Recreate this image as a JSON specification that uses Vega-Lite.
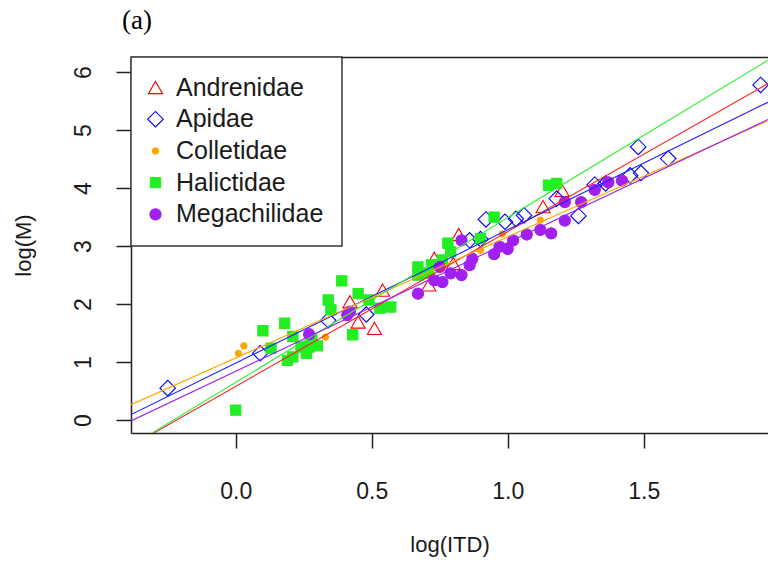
{
"$schema":"https://vega.github.io/schema/vega-lite/v6.json",
"width":637,"height":376,"autosize":"none",
"padding":{"left":131,"top":57,"right":0,"bottom":132},
"background":"white",
"title":{"text":"(a)","font":"Liberation Serif","fontSize":27,"fontWeight":"normal","anchor":"start","frame":"group","dx":-9,"offset":0,"baseline":"alphabetic","color":"#000"},
"datasets":{
"pts":[
{"f":"Andrenidae","x":0.42,"y":2.04},{"f":"Andrenidae","x":0.45,"y":1.69},{"f":"Andrenidae","x":0.51,"y":1.58},{"f":"Andrenidae","x":0.54,"y":2.24},{"f":"Andrenidae","x":0.71,"y":2.33},{"f":"Andrenidae","x":0.73,"y":2.79},{"f":"Andrenidae","x":0.80,"y":2.70},{"f":"Andrenidae","x":0.82,"y":3.20},{"f":"Andrenidae","x":1.13,"y":3.68},{"f":"Andrenidae","x":1.20,"y":3.96},
{"f":"Apidae","x":-0.25,"y":0.55},{"f":"Apidae","x":0.09,"y":1.15},{"f":"Apidae","x":0.34,"y":1.72},{"f":"Apidae","x":0.48,"y":1.82},{"f":"Apidae","x":0.86,"y":3.10},{"f":"Apidae","x":0.90,"y":3.12},{"f":"Apidae","x":0.92,"y":3.46},{"f":"Apidae","x":0.99,"y":3.42},{"f":"Apidae","x":1.03,"y":3.47},{"f":"Apidae","x":1.06,"y":3.53},{"f":"Apidae","x":1.18,"y":3.82},{"f":"Apidae","x":1.26,"y":3.52},{"f":"Apidae","x":1.32,"y":4.06},{"f":"Apidae","x":1.36,"y":4.08},{"f":"Apidae","x":1.45,"y":4.22},{"f":"Apidae","x":1.49,"y":4.26},{"f":"Apidae","x":1.48,"y":4.71},{"f":"Apidae","x":1.59,"y":4.51},{"f":"Apidae","x":1.93,"y":5.78},
{"f":"Colletidae","x":0.01,"y":1.15},{"f":"Colletidae","x":0.03,"y":1.28},{"f":"Colletidae","x":0.33,"y":1.43},{"f":"Colletidae","x":0.90,"y":2.93},{"f":"Colletidae","x":0.98,"y":3.21},{"f":"Colletidae","x":1.12,"y":3.45},
{"f":"Halictidae","x":0.00,"y":0.17},{"f":"Halictidae","x":0.10,"y":1.54},{"f":"Halictidae","x":0.13,"y":1.24},{"f":"Halictidae","x":0.18,"y":1.67},{"f":"Halictidae","x":0.19,"y":1.03},{"f":"Halictidae","x":0.21,"y":1.44},{"f":"Halictidae","x":0.21,"y":1.09},{"f":"Halictidae","x":0.24,"y":1.26},{"f":"Halictidae","x":0.26,"y":1.15},{"f":"Halictidae","x":0.27,"y":1.26},{"f":"Halictidae","x":0.30,"y":1.28},{"f":"Halictidae","x":0.28,"y":1.38},{"f":"Halictidae","x":0.34,"y":2.07},{"f":"Halictidae","x":0.35,"y":1.90},{"f":"Halictidae","x":0.39,"y":2.40},{"f":"Halictidae","x":0.43,"y":1.47},{"f":"Halictidae","x":0.45,"y":2.18},{"f":"Halictidae","x":0.49,"y":2.07},{"f":"Halictidae","x":0.53,"y":1.93},{"f":"Halictidae","x":0.57,"y":1.95},{"f":"Halictidae","x":0.67,"y":2.50},{"f":"Halictidae","x":0.67,"y":2.64},{"f":"Halictidae","x":0.71,"y":2.53},{"f":"Halictidae","x":0.72,"y":2.68},{"f":"Halictidae","x":0.76,"y":2.76},{"f":"Halictidae","x":0.78,"y":3.05},{"f":"Halictidae","x":0.79,"y":2.90},{"f":"Halictidae","x":0.90,"y":3.13},{"f":"Halictidae","x":0.95,"y":3.50},{"f":"Halictidae","x":1.15,"y":4.05},{"f":"Halictidae","x":1.18,"y":4.08},
{"f":"Megachilidae","x":0.27,"y":1.48},{"f":"Megachilidae","x":0.41,"y":1.81},{"f":"Megachilidae","x":0.42,"y":1.87},{"f":"Megachilidae","x":0.67,"y":2.18},{"f":"Megachilidae","x":0.73,"y":2.41},{"f":"Megachilidae","x":0.75,"y":2.64},{"f":"Megachilidae","x":0.76,"y":2.38},{"f":"Megachilidae","x":0.79,"y":2.53},{"f":"Megachilidae","x":0.83,"y":3.10},{"f":"Megachilidae","x":0.83,"y":2.50},{"f":"Megachilidae","x":0.86,"y":2.67},{"f":"Megachilidae","x":0.87,"y":2.78},{"f":"Megachilidae","x":0.95,"y":2.86},{"f":"Megachilidae","x":0.97,"y":2.99},{"f":"Megachilidae","x":1.00,"y":2.95},{"f":"Megachilidae","x":1.02,"y":3.10},{"f":"Megachilidae","x":1.07,"y":3.20},{"f":"Megachilidae","x":1.12,"y":3.28},{"f":"Megachilidae","x":1.16,"y":3.22},{"f":"Megachilidae","x":1.21,"y":3.44},{"f":"Megachilidae","x":1.21,"y":3.76},{"f":"Megachilidae","x":1.27,"y":3.76},{"f":"Megachilidae","x":1.32,"y":3.97},{"f":"Megachilidae","x":1.37,"y":4.10},{"f":"Megachilidae","x":1.42,"y":4.13}
],
"fit":[
{"f":"Andrenidae","x":-0.385,"y":-0.448},{"f":"Andrenidae","x":1.957,"y":5.805},
{"f":"Apidae","x":-0.385,"y":0.095},{"f":"Apidae","x":1.957,"y":5.481},
{"f":"Colletidae","x":-0.385,"y":0.265},{"f":"Colletidae","x":1.957,"y":5.160},
{"f":"Halictidae","x":-0.385,"y":-0.443},{"f":"Halictidae","x":1.957,"y":6.208},
{"f":"Megachilidae","x":-0.385,"y":-0.015},{"f":"Megachilidae","x":1.957,"y":5.185}
]
},
"layer":[
{"data":{"name":"pts"},
 "mark":{"type":"point","opacity":1,"strokeWidth":1.1},
 "encoding":{
  "x":{"field":"x","type":"quantitative","scale":{"domain":[-0.385,1.957],"nice":false,"zero":false},
       "axis":{"values":[0,0.5,1,1.5],"format":".1f","title":"log(ITD)","tickSize":15,"labelPadding":32,"titlePadding":31,"grid":false}},
  "y":{"field":"y","type":"quantitative","scale":{"domain":[-0.224,6.262],"nice":false,"zero":false},
       "axis":{"values":[0,1,2,3,4,5,6],"format":"d","title":"log(M)","tickSize":15,"labelAngle":-90,"labelAlign":"center","labelBaseline":"alphabetic","labelPadding":26,"titlePadding":37,"grid":false}},
  "shape":{"field":"f","type":"nominal","scale":{"domain":["Andrenidae","Apidae","Colletidae","Halictidae","Megachilidae"],"range":["triangle-up","diamond","circle","square","circle"]},"legend":{"title":null}},
  "stroke":{"field":"f","type":"nominal","scale":{"domain":["Andrenidae","Apidae","Colletidae","Halictidae","Megachilidae"],"range":["#FF0000","#0000FF","#FFA500","#22EE22","#A020F0"]},"legend":{"title":null}},
  "fill":{"field":"f","type":"nominal","scale":{"domain":["Andrenidae","Apidae","Colletidae","Halictidae","Megachilidae"],"range":["transparent","transparent","#FFA500","#22EE22","#A020F0"]},"legend":{"title":null}},
  "size":{"field":"f","type":"nominal","scale":{"type":"ordinal","domain":["Andrenidae","Apidae","Colletidae","Halictidae","Megachilidae"],"range":[200,240,38,105,125]},"legend":{"title":null}}
 }},
{"data":{"name":"fit"},
 "mark":{"type":"line","clip":true,"strokeWidth":1.1},
 "encoding":{
  "x":{"field":"x","type":"quantitative","axis":{"orient":"top","labels":false,"ticks":false,"title":null,"grid":false}},
  "y":{"field":"y","type":"quantitative"},
  "color":{"field":"f","type":"nominal","scale":{"domain":["Andrenidae","Apidae","Colletidae","Halictidae","Megachilidae"],"range":["#FF2020","#2020FF","#FFA500","#33EE33","#A020F0"]},"legend":null}
 }}
],
"resolve":{"axis":{"x":"independent"}},
"config":{
 "view":{"stroke":null},
 "font":"Liberation Sans",
 "axis":{"domainColor":"#222","domainWidth":1.5,"tickColor":"#222","tickWidth":1.5,"labelFont":"Liberation Sans","titleFont":"Liberation Sans","labelFontSize":23,"titleFontSize":22,"labelColor":"#1a1a1a","titleColor":"#1a1a1a","titleFontWeight":"normal"},
 "legend":{"orient":"none","legendX":0,"legendY":0,"padding":18,"strokeColor":"#333","strokeWidth":1.5,"fillColor":"white","labelFontSize":25,"labelFont":"Liberation Sans","labelColor":"#1a1a1a","rowPadding":5.7,"labelOffset":8,"symbolOffset":-6,"symbolStrokeWidth":1.1}
}
}
